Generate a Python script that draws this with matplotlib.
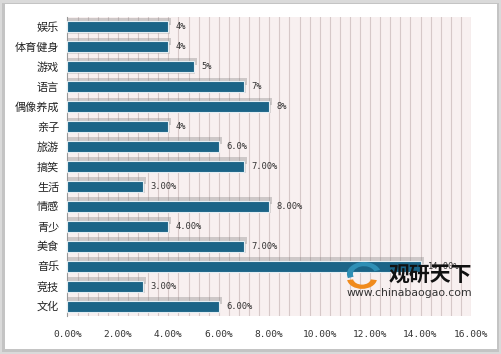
import matplotlib
matplotlib.use("Agg")
import matplotlib.pyplot as plt
from matplotlib.patches import Rectangle, Wedge
import numpy as np

categories = ["娱乐", "体育健身", "游戏", "语言", "偶像养成", "亲子", "旅游", "搞笑",
              "生活", "情感", "青少", "美食", "音乐", "竞技", "文化"]
values = [4, 4, 5, 7, 8, 4, 6, 7, 3, 8, 4, 7, 14, 3, 6]
value_labels = ["4%", "4%", "5%", "7%", "8%", "4%", "6.0%", "7.00%", "3.00%", "8.00%",
                "4.00%", "7.00%", "14.00%", "3.00%", "6.00%"]
xticks = [0, 2, 4, 6, 8, 10, 12, 14, 16]
xtick_labels = ["0.00%", "2.00%", "4.00%", "6.00%", "8.00%", "10.00%", "12.00%", "14.00%", "16.00%"]

plt.rcParams['font.family'] = ['Noto Sans CJK SC', 'DejaVu Sans']

W, H = 502, 354
fig = plt.figure(figsize=(5.02, 3.54), dpi=100)
fig.patch.set_facecolor('white')

def fx(px):
    return px / W

def fy(py):
    return 1 - py / H

# outer frame
fig.patches.append(Rectangle((0, 0), 1, 1, transform=fig.transFigure,
                             facecolor='#DADADA', edgecolor='none', zorder=-3))
fig.patches.append(Rectangle((fx(2), fy(352)), fx(497), 350 / H - 1 / H, transform=fig.transFigure,
                             facecolor='#C4C4C4', edgecolor='none', zorder=-2))
fig.patches.append(Rectangle((fx(5), fy(349)), fx(492), 345 / H, transform=fig.transFigure,
                             facecolor='white', edgecolor='none', zorder=-1))

ax = fig.add_axes([fx(67.5), fy(316), (471 - 67.5) / W, (316 - 17) / H])
ax.set_facecolor('#F8F0F0')

n = len(categories)
y = np.arange(n)
ax.set_xlim(0, 16)
ax.set_ylim(n - 0.5, -0.5)

for gx in np.arange(0.4, 16.01, 0.4):
    ax.axvline(gx, color='#D6C8C8', linewidth=0.8, zorder=1)

# shadows
ax.barh(y - 0.28, [v + 0.12 for v in values], height=0.35, left=0, color='#808080',
        alpha=0.35, zorder=2, linewidth=0)
ax.barh(y + 0.06, [v + 0.06 for v in values], height=0.55, left=0, color='#A0A0A0',
        alpha=0.35, zorder=2, linewidth=0)
ax.barh(y, values, height=0.55, color='#1B6487', edgecolor='#E4EEF3', linewidth=0.8, zorder=3)

for yi, v, lab in zip(y, values, value_labels):
    ax.text(v + 0.3, yi, lab, va='center', ha='left', fontsize=6.3,
            family=['DejaVu Sans Mono'], color='#333333', zorder=4)

ax.set_yticks(y)
ax.set_yticklabels(categories, fontsize=8, color='#222222')
ax.set_xticks(xticks)
ax.set_xticklabels(xtick_labels, fontsize=6.8, family=['DejaVu Sans Mono'], color='#333333')
ax.tick_params(axis='both', length=0)
ax.tick_params(axis='x', pad=10)
ax.tick_params(axis='y', pad=6)
for s in ['top', 'right', 'bottom']:
    ax.spines[s].set_visible(False)
ax.spines['left'].set_color('#999999')
ax.spines['left'].set_linewidth(0.8)

# watermark
fig.text(fx(430), fy(275), "观研天下", fontsize=15, fontweight='bold', color='#111111',
         ha='center', va='center')
fig.text(fx(409), fy(293), "www.chinabaogao.com", fontsize=7.8, color='#333333',
         family=['DejaVu Sans'], ha='center', va='center')
# simple logo
cx, cy = fx(364), fy(274)
asp = W / H
fig.patches.append(Wedge((cx, cy), 0.034, 20, 200, width=0.012, transform=fig.transFigure,
                         facecolor='#2F8FB5', edgecolor='none', zorder=5))
fig.patches.append(Wedge((cx - 0.004, cy - 0.012), 0.03, 190, 350, width=0.012, transform=fig.transFigure,
                         facecolor='#F08A1C', edgecolor='none', zorder=5))

fig.savefig("out.png", dpi=100)
